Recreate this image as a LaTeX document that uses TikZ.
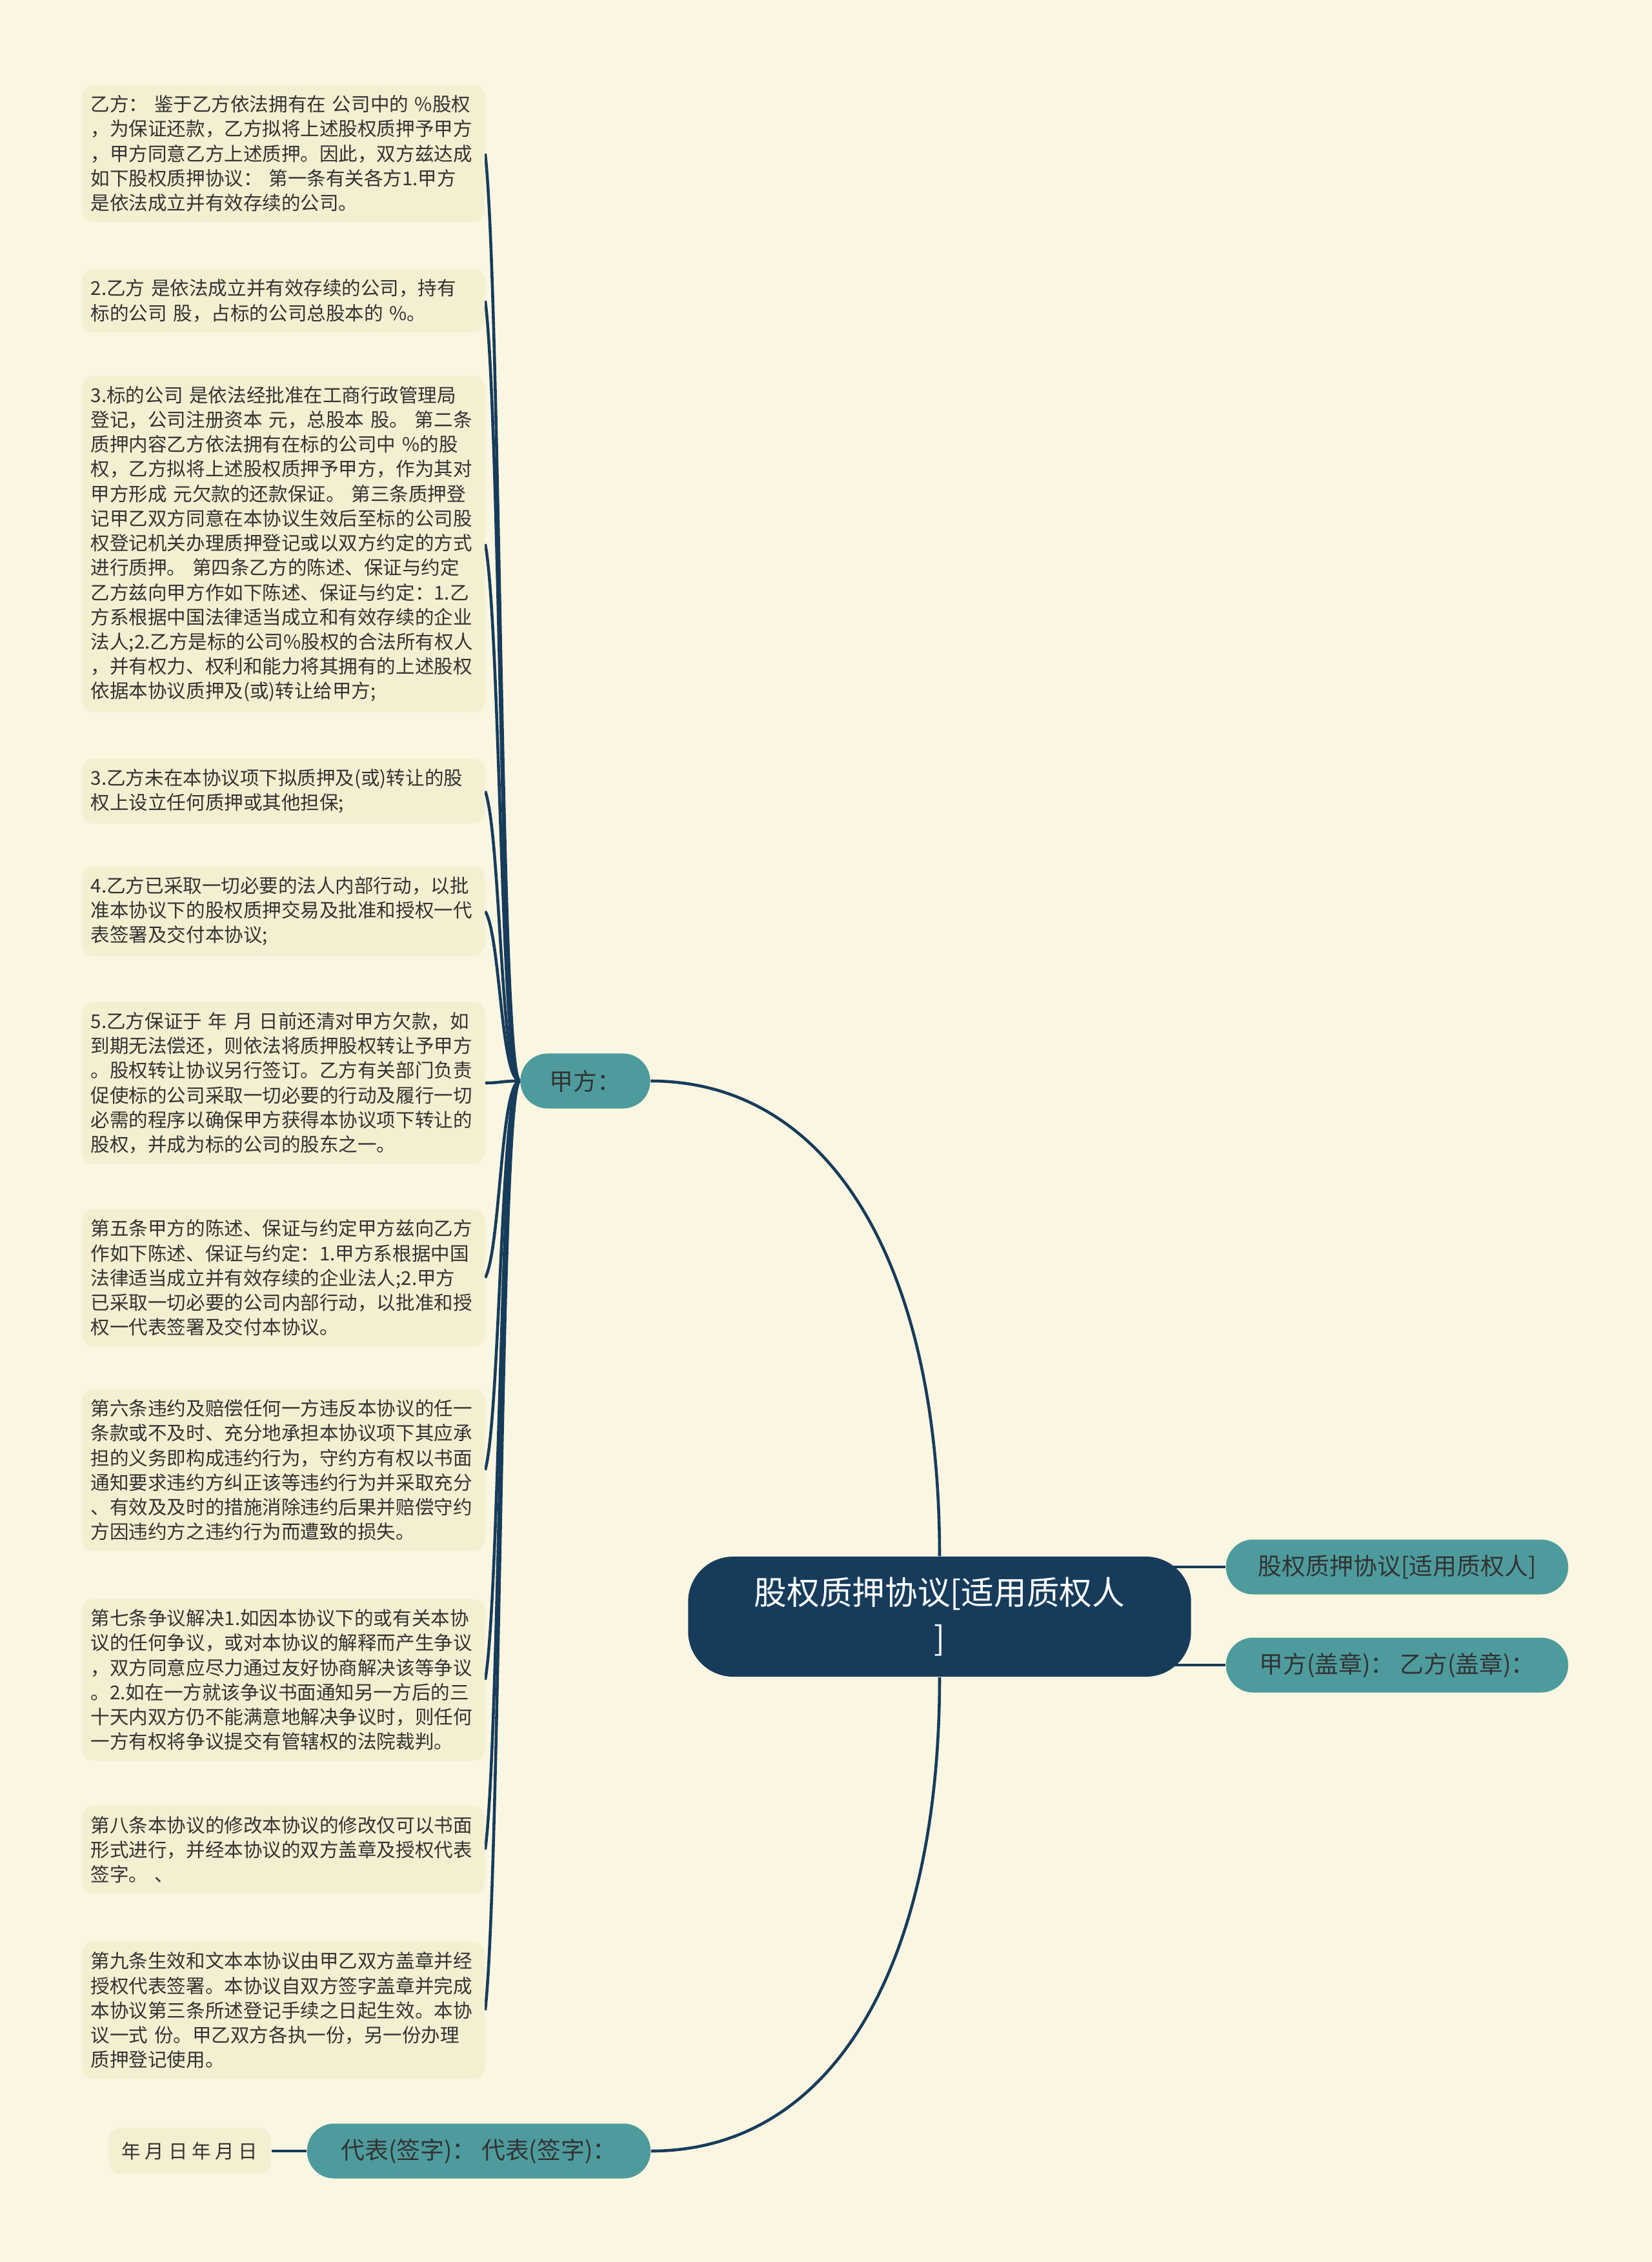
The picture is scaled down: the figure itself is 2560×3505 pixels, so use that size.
\documentclass[tikz,border=0pt]{standalone}
\usepackage{fontspec}
\setmainfont{Noto Sans CJK SC}
\usepackage{tikz}

\definecolor{pagebg}{HTML}{FAF6E2}
\definecolor{notebg}{HTML}{F5EFD1}
\definecolor{tealbg}{HTML}{4E9B9D}
\definecolor{navy}{HTML}{173C5B}
\definecolor{inkdark}{HTML}{333333}

\pgfdeclarelayer{back}
\pgfdeclarelayer{wires}
\pgfsetlayers{back,wires,main}

\newcommand{\leafsize}{\fontsize{8.4pt}{10.87pt}\selectfont}
\newcommand{\topicsize}{\fontsize{10.5pt}{13pt}\selectfont}
\newcommand{\rootsize}{\fontsize{14.4pt}{20pt}\selectfont}

\tikzset{
  note/.style={fill=notebg, rounded corners=0.18cm, text=inkdark, font=\leafsize},
  para/.style={note, text width=5.96cm, align=left, inner xsep=0.14cm, inner ysep=0.16cm},
  topic/.style={fill=tealbg, rounded corners=0.42cm, minimum height=0.85cm, text=inkdark, font=\topicsize},
  mainidea/.style={fill=navy, rounded corners=0.7cm, minimum width=7.79cm, minimum height=1.86cm, text=white, font=\rootsize, align=center},
  link/.style={draw=navy, line width=1.3pt}
}

\begin{document}
\begin{tikzpicture}[x=0.01cm,y=-0.01cm]
   \begin{pgfonlayer}{back}
   \fill[pagebg] (0,0) rectangle (2560,3505);
   \end{pgfonlayer}
   \useasboundingbox (0,0) rectangle (2560,3505);

   \node[mainidea] (root) at (1456,2505) {股权质押协议[适用质权人\\]};
   \node[topic,minimum width=5.3cm] (r1) at (2165,2428) {股权质押协议[适用质权人]};
   \node[topic,minimum width=5.3cm] (r2) at (2165,2580) {甲方(盖章)： 乙方(盖章)：};
   \node[topic,minimum width=2.01cm] (jia) at (907,1675) {甲方：};
   \node[topic,minimum width=5.32cm] (dai) at (742,3333) {代表(签字)： 代表(签字)：};
   \node[note,minimum width=2.52cm,minimum height=0.71cm] (date) at (294,3333) {年 月 日 年 月 日};

   \node[para] (l1) at (439,238) {乙方： 鉴于乙方依法拥有在 公司中的 \%股权\\，为保证还款，乙方拟将上述股权质押予甲方\\，甲方同意乙方上述质押。因此，双方兹达成\\如下股权质押协议： 第一条有关各方1.甲方\\是依法成立并有效存续的公司。};
   \node[para] (l2) at (439,466) {2.乙方 是依法成立并有效存续的公司，持有\\标的公司 股，占标的公司总股本的 \%。};
   \node[para] (l3) at (439,843) {3.标的公司 是依法经批准在工商行政管理局\\登记，公司注册资本 元，总股本 股。 第二条\\质押内容乙方依法拥有在标的公司中 \%的股\\权，乙方拟将上述股权质押予甲方，作为其对\\甲方形成 元欠款的还款保证。 第三条质押登\\记甲乙双方同意在本协议生效后至标的公司股\\权登记机关办理质押登记或以双方约定的方式\\进行质押。 第四条乙方的陈述、保证与约定\\乙方兹向甲方作如下陈述、保证与约定：1.乙\\方系根据中国法律适当成立和有效存续的企业\\法人;2.乙方是标的公司\%股权的合法所有权人\\，并有权力、权利和能力将其拥有的上述股权\\依据本协议质押及(或)转让给甲方;};
   \node[para] (l4) at (439,1226) {3.乙方未在本协议项下拟质押及(或)转让的股\\权上设立任何质押或其他担保;};
   \node[para] (l5) at (439,1412) {4.乙方已采取一切必要的法人内部行动，以批\\准本协议下的股权质押交易及批准和授权一代\\表签署及交付本协议;};
   \node[para] (l6) at (439,1678) {5.乙方保证于 年 月 日前还清对甲方欠款，如\\到期无法偿还，则依法将质押股权转让予甲方\\。股权转让协议另行签订。乙方有关部门负责\\促使标的公司采取一切必要的行动及履行一切\\必需的程序以确保甲方获得本协议项下转让的\\股权，并成为标的公司的股东之一。};
   \node[para] (l7) at (439,1980) {第五条甲方的陈述、保证与约定甲方兹向乙方\\作如下陈述、保证与约定：1.甲方系根据中国\\法律适当成立并有效存续的企业法人;2.甲方\\已采取一切必要的公司内部行动，以批准和授\\权一代表签署及交付本协议。};
   \node[para] (l8) at (439,2278) {第六条违约及赔偿任何一方违反本协议的任一\\条款或不及时、充分地承担本协议项下其应承\\担的义务即构成违约行为，守约方有权以书面\\通知要求违约方纠正该等违约行为并采取充分\\、有效及及时的措施消除违约后果并赔偿守约\\方因违约方之违约行为而遭致的损失。};
   \node[para] (l9) at (439,2603) {第七条争议解决1.如因本协议下的或有关本协\\议的任何争议，或对本协议的解释而产生争议\\，双方同意应尽力通过友好协商解决该等争议\\。2.如在一方就该争议书面通知另一方后的三\\十天内双方仍不能满意地解决争议时，则任何\\一方有权将争议提交有管辖权的法院裁判。};
   \node[para] (l10) at (439,2866) {第八条本协议的修改本协议的修改仅可以书面\\形式进行，并经本协议的双方盖章及授权代表\\签字。 、};
   \node[para] (l11) at (439,3115) {第九条生效和文本本协议由甲乙双方盖章并经\\授权代表签署。本协议自双方签字盖章并完成\\本协议第三条所述登记手续之日起生效。本协\\议一式 份。甲乙双方各执一份，另一份办理\\质押登记使用。};

   \begin{pgfonlayer}{wires}
   \draw[link] (root.north) .. controls +(0,-450) and +(280,0) .. (jia.east);
   \draw[link] (root.south) .. controls +(0,450) and +(280,0) .. (dai.east);
   \draw[link] (root.center |- r1.west) -- (r1.west);
   \draw[link] (root.center |- r2.west) -- (r2.west);
   \draw[link] (dai.west) -- (date.east);
   \draw[link] (jia.west) .. controls +(-30,0) and +(24,216) .. (l1.east);
   \draw[link] (jia.west) .. controls +(-30,0) and +(24,181) .. (l2.east);
   \draw[link] (jia.west) .. controls +(-30,0) and +(24,125) .. (l3.east);
   \draw[link] (jia.west) .. controls +(-30,0) and +(24,67) .. (l4.east);
   \draw[link] (jia.west) .. controls +(-30,0) and +(24,39) .. (l5.east);
   \draw[link] (jia.west) .. controls +(-30,0) and +(24,0) .. (l6.east);
   \draw[link] (jia.west) .. controls +(-30,0) and +(24,-46) .. (l7.east);
   \draw[link] (jia.west) .. controls +(-30,0) and +(24,-90) .. (l8.east);
   \draw[link] (jia.west) .. controls +(-30,0) and +(24,-139) .. (l9.east);
   \draw[link] (jia.west) .. controls +(-30,0) and +(24,-179) .. (l10.east);
   \draw[link] (jia.west) .. controls +(-30,0) and +(24,-216) .. (l11.east);
   \end{pgfonlayer}
\end{tikzpicture}
\end{document}
